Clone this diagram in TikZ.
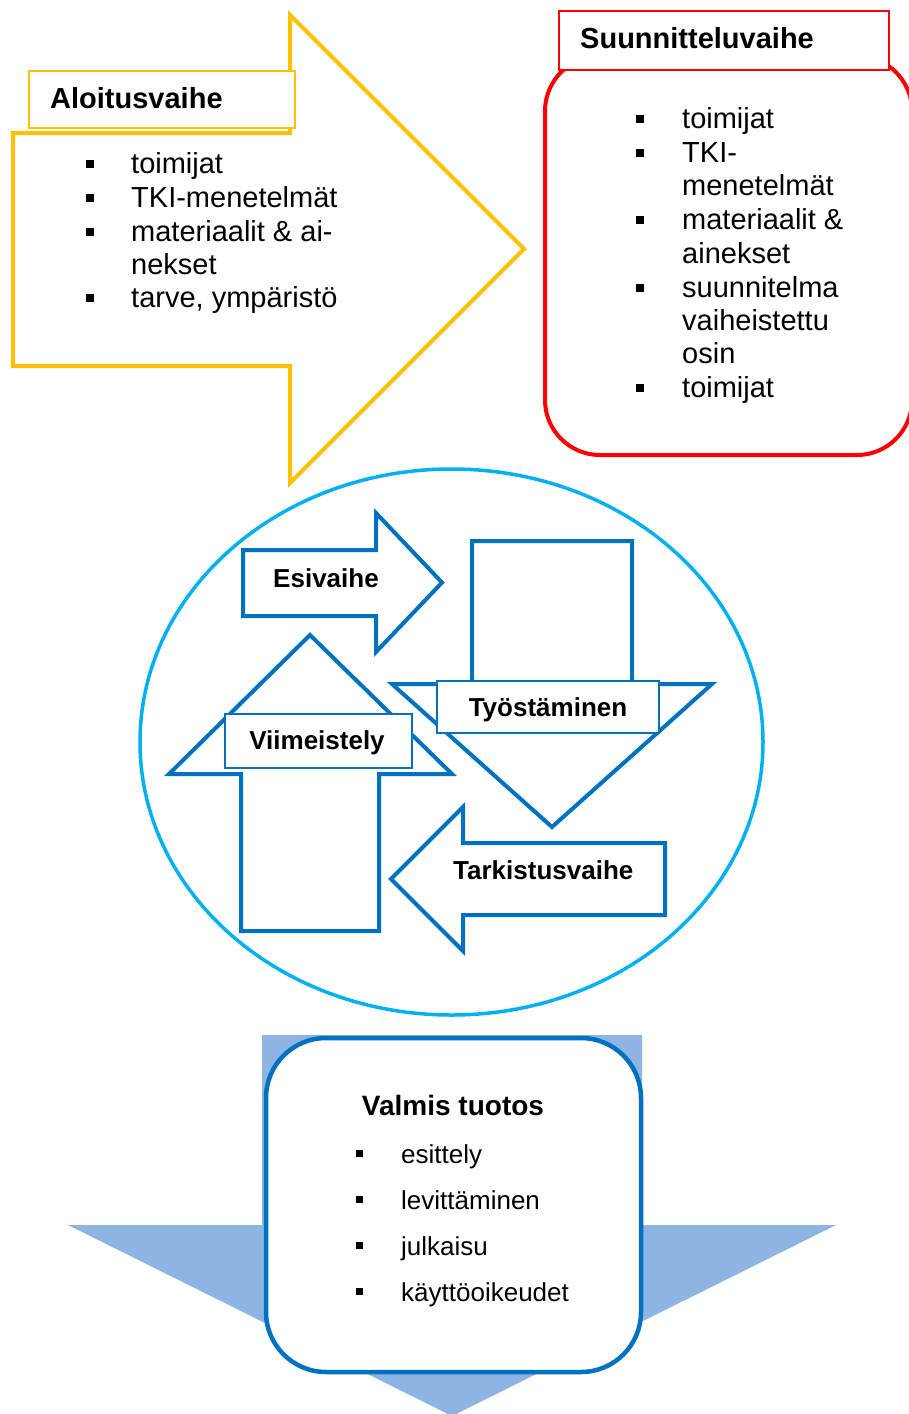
\documentclass[tikz,border=0pt]{standalone}
\usepackage{fontspec}
\setmainfont{Liberation Sans}
\definecolor{aloitus}{HTML}{FFC000}
\definecolor{suunn}{HTML}{FF0000}
\definecolor{kehys}{HTML}{00B0F0}
\definecolor{vaihe}{HTML}{0070C0}
\definecolor{tuotos}{HTML}{8EB4E3}
\newcommand\isofont{\fontsize{29}{33}\selectfont}
\newcommand\pienifont{\fontsize{26}{30}\selectfont}
\begin{document}
\begin{tikzpicture}[x=1pt,y=-1pt,line join=miter,
  txt/.style={inner sep=0pt,anchor=base west,font=\isofont},
  pientxt/.style={inner sep=0pt,anchor=base west,font=\pienifont},
  otsikko/.style={inner sep=0pt,font=\isofont\bfseries},
  vaiheteksti/.style={inner sep=0pt,anchor=base,font=\pienifont\bfseries},
  luetelma/.style={fill=black,inner sep=0pt,minimum size=8pt},
  nuoli/.style={draw=vaihe,line width=4pt,fill=white},
  nimilappu/.style={draw=vaihe,line width=1.2pt,fill=white}]
\clip (0,0) rectangle (909,1414);
\fill[white] (0,0) rectangle (909,1414);

% Aloitusvaihe
\draw[aloitus,line width=4pt,fill=white] (13,133) -- (290,133) -- (290,15) -- (524,249)
  -- (290,483) -- (290,366) -- (13,366) -- cycle;
\draw[aloitus,line width=1.6pt,fill=white] (29,71) rectangle (295,128);
\node[otsikko,anchor=base west] (aloitus) at (50,108) {Aloitusvaihe};
\foreach \rivi/\y/\teksti/\merkki in {1/173/toimijat/1, 2/207/TKI-menetelmät/1,
  3/241/materiaalit \& ai-/1, 4/274/nekset/0, 5/307/{tarve, ympäristö}/1}{
  \node[txt] (aloitus-\rivi) at (131,\y) {\teksti};
  \ifnum\merkki=1 \node[luetelma] (aloitus-m\rivi) at (90,\y-9.5) {};\fi
}

% Suunnitteluvaihe
\draw[suunn,line width=4pt,fill=white,rounded corners=55pt] (545,56) rectangle (912,455);
\draw[suunn,line width=1.2pt,fill=white] (559,11) rectangle (889,70);
\node[otsikko,anchor=base west] (suunnittelu) at (580,48) {Suunnitteluvaihe};
\foreach \rivi/\y/\teksti/\merkki in {1/128/toimijat/1, 2/162/TKI-/1, 3/195/menetelmät/0,
  4/229/materiaalit \&/1, 5/263/ainekset/0, 6/297/suunnitelma/1, 7/330/vaiheistettu/0,
  8/363/osin/0, 9/397/toimijat/1}{
  \node[txt] (suunn-\rivi) at (682,\y) {\teksti};
  \ifnum\merkki=1 \node[luetelma] (suunn-m\rivi) at (640,\y-9.5) {};\fi
}

% kehä
\draw[kehys,line width=3.5pt] (451.5,742) ellipse [x radius=311.5, y radius=273];

% Esivaihe
\draw[nuoli] (243,550) -- (376,550) -- (376,513) -- (442,582.5) -- (376,652) -- (376,616)
  -- (243,616) -- cycle;
\node[vaiheteksti] (esi) at (326,587) {Esivaihe};

% Työstäminen
\draw[nuoli] (472,541) -- (632,541) -- (632,684) -- (712,684) -- (552,827) -- (392,684)
  -- (472,684) -- cycle;
\draw[nimilappu] (437,681) rectangle (659,733);
\node[vaiheteksti] (tyosto) at (548,716) {Työstäminen};

% Viimeistely
\draw[nuoli] (241,931) -- (241,774) -- (169,774) -- (310,635) -- (452,774) -- (379,774)
  -- (379,931) -- cycle;
\draw[nimilappu] (225,714) rectangle (412,768);
\node[vaiheteksti] (viim) at (317,749) {Viimeistely};

% Tarkistusvaihe
\draw[nuoli] (665,843) -- (463,843) -- (463,807) -- (391,879) -- (463,951) -- (463,915)
  -- (665,915) -- cycle;
\node[vaiheteksti,anchor=base west] (tark) at (453,879) {Tarkistusvaihe};

% Valmis tuotos
\fill[tuotos] (262,1035) -- (642,1035) -- (642,1225) -- (836,1225) -- (452,1416)
  -- (68,1225) -- (262,1225) -- cycle;
\draw[vaihe,line width=4.5pt,fill=white,rounded corners=60pt] (266,1038) rectangle (641,1372);
\node[otsikko,anchor=base,font=\fontsize{28}{32}\selectfont\bfseries] (valmis) at (453,1115) {Valmis tuotos};
\foreach \rivi/\y/\teksti in {1/1163/esittely, 2/1209/levittäminen, 3/1255/julkaisu,
  4/1301/käyttöoikeudet}{
  \node[pientxt] (valmis-\rivi) at (401,\y) {\teksti};
  \node[luetelma,minimum size=7pt] (valmis-m\rivi) at (359,\y-9.5) {};
}
\end{tikzpicture}
\end{document}
